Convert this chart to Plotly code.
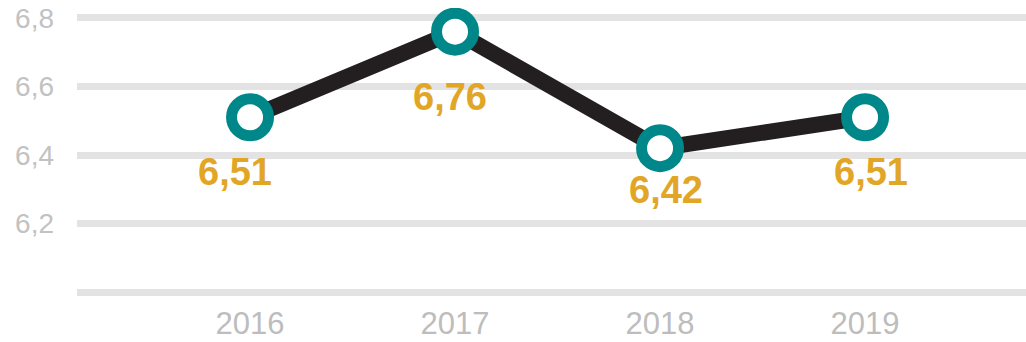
import plotly.graph_objects as go

# Yearly values
years = ["2016", "2017", "2018", "2019"]
values = [6.51, 6.76, 6.42, 6.51]
value_labels = ["6,51", "6,76", "6,42", "6,51"]

# Y axis ticks (6.0 line drawn without a label)
y_tickvals = [6.0, 6.2, 6.4, 6.6, 6.8]
y_ticktext = ["", "6,2", "6,4", "6,6", "6,8"]

# Label offsets in pixels, relative to each point
label_dx = [-15, -5, 6, 6]
label_dy = [-55, -65, -42, -55]

fig = go.Figure()
fig.add_trace(go.Scatter(
    x=years, y=values,
    mode="lines+markers",
    line=dict(color="#231f20", width=16),
    marker=dict(symbol="circle", size=37, color="white",
                line=dict(color="#00878a", width=11)),
    hoverinfo="skip",
    showlegend=False,
))

for i, (v, t, dx, dy) in enumerate(zip(values, value_labels, label_dx, label_dy)):
    fig.add_annotation(
        xref="x", yref="y", x=i, y=v,
        text="<b>" + t + "</b>", showarrow=False,
        xshift=dx, yshift=dy,
        xanchor="center", yanchor="middle",
        font=dict(family="Liberation Sans, Arial, sans-serif", size=38,
                  color="#e2a627"),
    )

fig.update_layout(
    width=1026, height=342,
    margin=dict(l=77, r=0, t=8, b=40, autoexpand=False),
    paper_bgcolor="white", plot_bgcolor="white",
    xaxis=dict(
        type="category", range=[-0.844, 3.785],
        showgrid=False, zeroline=False, showline=False,
        ticks="", ticklabelstandoff=0, automargin=False,
        tickfont=dict(family="Liberation Sans, Arial, sans-serif", size=31,
                      color="#bdbdbd"),
    ),
    yaxis=dict(
        range=[5.971, 6.829],
        tickvals=y_tickvals, ticktext=y_ticktext,
        showgrid=True, gridcolor="#e3e3e3", gridwidth=7,
        zeroline=False, showline=False, ticks="",
        ticklabelstandoff=22, automargin=False,
        tickfont=dict(family="Liberation Sans, Arial, sans-serif", size=28,
                      color="#c2c2c2"),
    ),
)

fig.write_html("out.html")
